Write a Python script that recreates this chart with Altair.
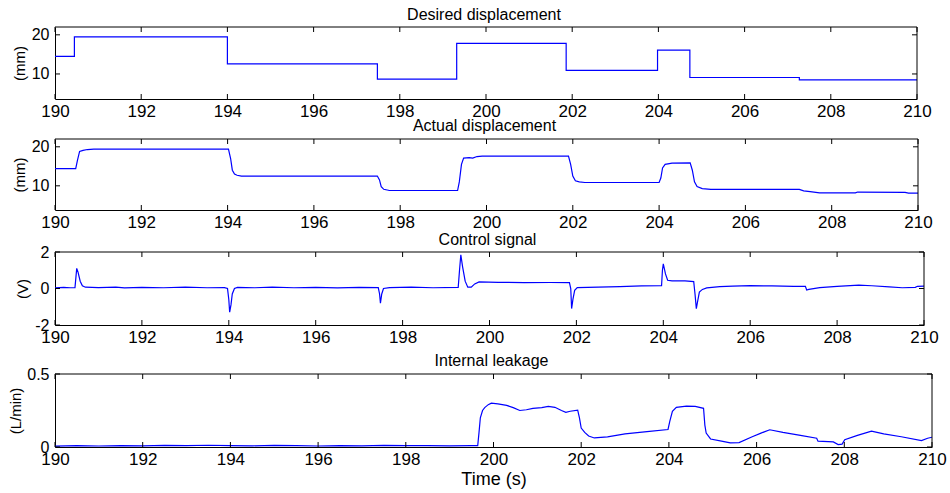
import altair as alt
import pandas as pd

FONT = "Liberation Sans"
BLUE = "#0000ff"

# shared time axis
x_ticks = list(range(190, 211, 2))

# desired displacement (mm): step changes
des_t = [190.0, 190.45, 194.0, 197.48, 199.32, 201.86, 203.98, 204.73, 207.27, 210.0]
des_v = [14.5, 19.5, 12.6, 8.7, 17.8, 10.9, 16.1, 9.1, 8.5, 8.5]

# actual displacement (mm)
act_t = [190.0, 190.48, 190.52, 190.57, 190.65, 190.75, 190.9, 194.02, 194.07, 194.11,
         194.16, 194.22, 194.32, 197.47, 197.52, 197.56, 197.62, 197.75, 199.33, 199.37,
         199.42, 199.47, 199.6, 199.68, 199.78, 199.9, 201.9, 201.95, 202.0, 202.06,
         202.15, 202.28, 204.0, 204.04, 204.08, 204.14, 204.3, 204.72, 204.77, 204.82,
         204.88, 205.0, 205.2, 207.25, 207.35, 207.5, 207.72, 208.55, 208.6, 209.7,
         209.78, 210.0]
act_v = [14.4, 14.4, 16.5, 18.8, 19.1, 19.3, 19.4, 19.4, 17.0, 14.0,
         13.0, 12.7, 12.5, 12.5, 11.5, 9.8, 9.1, 8.8, 8.8, 11.0,
         15.5, 17.1, 17.2, 17.1, 17.5, 17.6, 17.6, 15.5, 12.5, 11.3,
         11.0, 10.85, 10.85, 12.0, 14.6, 15.5, 15.8, 15.9, 14.0, 11.0,
         9.8, 9.3, 9.1, 9.1, 8.7, 8.5, 8.2, 8.2, 8.4, 8.3,
         8.15, 8.15]

# control signal (V)
ctl_t = [190.0, 190.2, 190.35, 190.46, 190.5, 190.53, 190.58, 190.63, 190.7, 191.0,
         191.4, 191.6, 192.0, 192.5, 193.0, 193.5, 193.9, 193.97, 194.0, 194.02,
         194.05, 194.08, 194.13, 194.2, 194.6, 195.0, 195.5, 196.0, 196.5, 197.0,
         197.44, 197.47, 197.49, 197.52, 197.56, 197.7, 198.2, 198.7, 199.28, 199.31,
         199.34, 199.38, 199.44, 199.5, 199.58, 199.66, 199.76, 200.2, 200.8, 201.4,
         201.84, 201.87, 201.89, 201.92, 201.96, 202.02, 202.5, 203.0, 203.5, 203.96,
         203.98, 204.0, 204.05, 204.1, 204.2, 204.5, 204.7, 204.73, 204.76, 204.79,
         204.83, 204.9, 205.0, 205.3, 205.6, 206.0, 206.5, 207.0, 207.27, 207.3,
         207.35, 207.6, 208.0, 208.5, 208.8, 209.2, 209.5, 209.8, 209.85, 210.0]
ctl_v = [0.03, 0.06, 0.04, 0.05, 1.1, 0.9, 0.4, 0.15, 0.07, 0.05,
         0.08, 0.03, 0.06, 0.04, 0.07, 0.04, 0.05, 0.0, -0.6, -1.3,
         -0.9, -0.3, 0.0, 0.06, 0.04, 0.07, 0.04, 0.06, 0.03, 0.06,
         0.05, -0.3, -0.8, -0.3, 0.0, 0.05, 0.07, 0.04, 0.06, 1.0,
         1.85, 1.2, 0.4, 0.07, 0.07, 0.25, 0.36, 0.34, 0.32, 0.33,
         0.32, 0.0, -1.1, -0.6, -0.1, 0.05, 0.08, 0.1, 0.14, 0.16,
         1.0, 1.35, 0.8, 0.45, 0.42, 0.42, 0.38, -0.3, -1.1, -0.7,
         -0.2, -0.05, 0.03, 0.1, 0.13, 0.16, 0.14, 0.12, 0.12, -0.08,
         -0.05, 0.05, 0.12, 0.18, 0.15, 0.09, 0.04, 0.06, 0.12, 0.13]

# internal leakage (L/min)
leak_t = [190.0, 190.5, 191.0, 191.5, 192.0, 192.5, 193.0, 193.5, 194.0, 194.5,
          195.0, 195.5, 196.0, 196.5, 197.0, 197.5, 198.0, 198.5, 199.0, 199.5,
          199.64, 199.67, 199.7, 199.75, 199.8, 199.88, 199.95, 200.1, 200.3, 200.45,
          200.6, 200.75, 200.9, 201.1, 201.25, 201.4, 201.55, 201.65, 201.75, 201.92,
          201.96, 202.0, 202.08, 202.17, 202.3, 202.6, 203.0, 203.5, 203.98, 204.02,
          204.08, 204.17, 204.4, 204.6, 204.79, 204.82, 204.85, 204.95, 205.2, 205.4,
          205.6, 205.9, 206.1, 206.3, 206.6, 207.0, 207.37, 207.4, 207.75, 207.86,
          207.95, 208.01, 208.3, 208.62, 208.9, 209.3, 209.76, 209.9, 210.0]
leak_v = [0.006, 0.009, 0.007, 0.010, 0.008, 0.011, 0.009, 0.012, 0.010, 0.008,
          0.011, 0.009, 0.007, 0.010, 0.008, 0.011, 0.009, 0.010, 0.008, 0.010,
          0.009, 0.10, 0.20, 0.25, 0.27, 0.29, 0.30, 0.295, 0.285, 0.27,
          0.25, 0.255, 0.265, 0.27, 0.278, 0.272, 0.25, 0.238, 0.245, 0.253,
          0.2, 0.13, 0.1, 0.075, 0.062, 0.07, 0.09, 0.105, 0.12, 0.175,
          0.245, 0.272, 0.28, 0.278, 0.265, 0.15, 0.095, 0.055, 0.04, 0.028,
          0.03, 0.07, 0.095, 0.118, 0.1, 0.08, 0.06, 0.04, 0.035, 0.017,
          0.02, 0.05, 0.08, 0.108, 0.09, 0.07, 0.044, 0.06, 0.067]


def panel(t, v, title, ytitle, ydom, yticks, w, h, top_pad, ytitle_x, head_off,
          step=False, xtitle=None):
    H = h + top_pad
    df = pd.DataFrame({"t": t, "v": v})
    xs = alt.Scale(domain=[190, 210], nice=False, zero=False)
    ys = alt.Scale(domain=ydom, range=[H, top_pad], nice=False, zero=False)

    x_axis = alt.Axis(values=x_ticks, format="d", ticks=False, tickSize=0, grid=False,
                      labelPadding=12, labelBaseline="middle", labelFont=FONT,
                      labelFontSize=17, labelColor="black", domainColor="black",
                      domainWidth=1, labelFlush=False, labelOverlap=False,
                      title=xtitle, titleFont=FONT, titleFontSize=18,
                      titleFontWeight="normal", titleColor="black", titleY=32,
                      titleBaseline="middle")
    y_axis = alt.Axis(values=yticks, labelExpr="'' + datum.value", ticks=False,
                      tickSize=0, grid=False, labelPadding=6, labelFont=FONT,
                      labelFontSize=16, labelColor="black", domainColor="black",
                      domainWidth=1, labelFlush=False, labelOverlap=False,
                      title=ytitle, titleFont=FONT, titleFontSize=15,
                      titleFontWeight="normal", titleColor="black", titleAngle=270,
                      titleX=ytitle_x, titleY=top_pad + h / 2, titleAlign="center",
                      titleBaseline="middle")
    xenc = alt.X("t:Q", scale=xs, axis=x_axis)
    yenc = alt.Y("v:Q", scale=ys, axis=y_axis)

    line = alt.Chart(df).mark_line(
        color=BLUE, strokeWidth=1.2, clip=True,
        interpolate="step-after" if step else "linear",
    ).encode(x=xenc, y=yenc)

    xt = pd.DataFrame({"t": x_ticks})
    yt = pd.DataFrame({"v": yticks})
    one = pd.DataFrame({"k": [0]})
    tick = dict(color="black", strokeWidth=1)

    # inward ticks on all four sides, plus the top and right edges of the box
    top_ticks = alt.Chart(xt).mark_rule(**tick).encode(
        x=xenc, y=alt.value(top_pad), y2=alt.value(top_pad + 5))
    bot_ticks = alt.Chart(xt).mark_rule(**tick).encode(
        x=xenc, y=alt.value(H - 5), y2=alt.value(H))
    left_ticks = alt.Chart(yt).mark_rule(**tick).encode(
        y=yenc, x=alt.value(0), x2=alt.value(5))
    right_ticks = alt.Chart(yt).mark_rule(**tick).encode(
        y=yenc, x=alt.value(w - 5), x2=alt.value(w))
    frame_top = alt.Chart(one).mark_rule(**tick).encode(
        x=alt.value(0), x2=alt.value(w), y=alt.value(top_pad))
    frame_right = alt.Chart(one).mark_rule(**tick).encode(
        x=alt.value(w), y=alt.value(top_pad), y2=alt.value(H))

    # panel heading, centred just above the box
    heading = alt.Chart(one).mark_text(
        font=FONT, fontSize=16, color="black", align="center", baseline="middle",
    ).encode(x=alt.value(w / 2 - 2), y=alt.value(top_pad - head_off),
             text=alt.value(title))

    return alt.layer(line, top_ticks, bot_ticks, left_ticks, right_ticks,
                     frame_top, frame_right, heading).properties(width=w, height=H)


p1 = panel(des_t, des_v, "Desired displacement", "(mm)", [3.6, 22.0], [10, 20],
           862, 72, 0, -36, 12, step=True)
p2 = panel(act_t, act_v, "Actual displacement", "(mm)", [3.8, 22.0], [10, 20],
           863, 71, 0, -36, 13)
p3 = panel(ctl_t, ctl_v, "Control signal", "(V)", [-2, 2], [-2, 0, 2],
           869, 73, 2, -33, 12)
p4 = panel(leak_t, leak_v, "Internal leakage", "(L/min)", [0, 0.5], [0, 0.5],
           877, 73, 9, -40, 13, xtitle="Time (s)")

chart = alt.vconcat(p1, p2, p3, p4, spacing=40, bounds="flush").properties(
    padding={"left": 7, "top": 6, "right": 2, "bottom": 4},
    background="white",
).configure_view(stroke="transparent")

chart.save("out.html", embed_options={"renderer": "svg", "actions": False})
